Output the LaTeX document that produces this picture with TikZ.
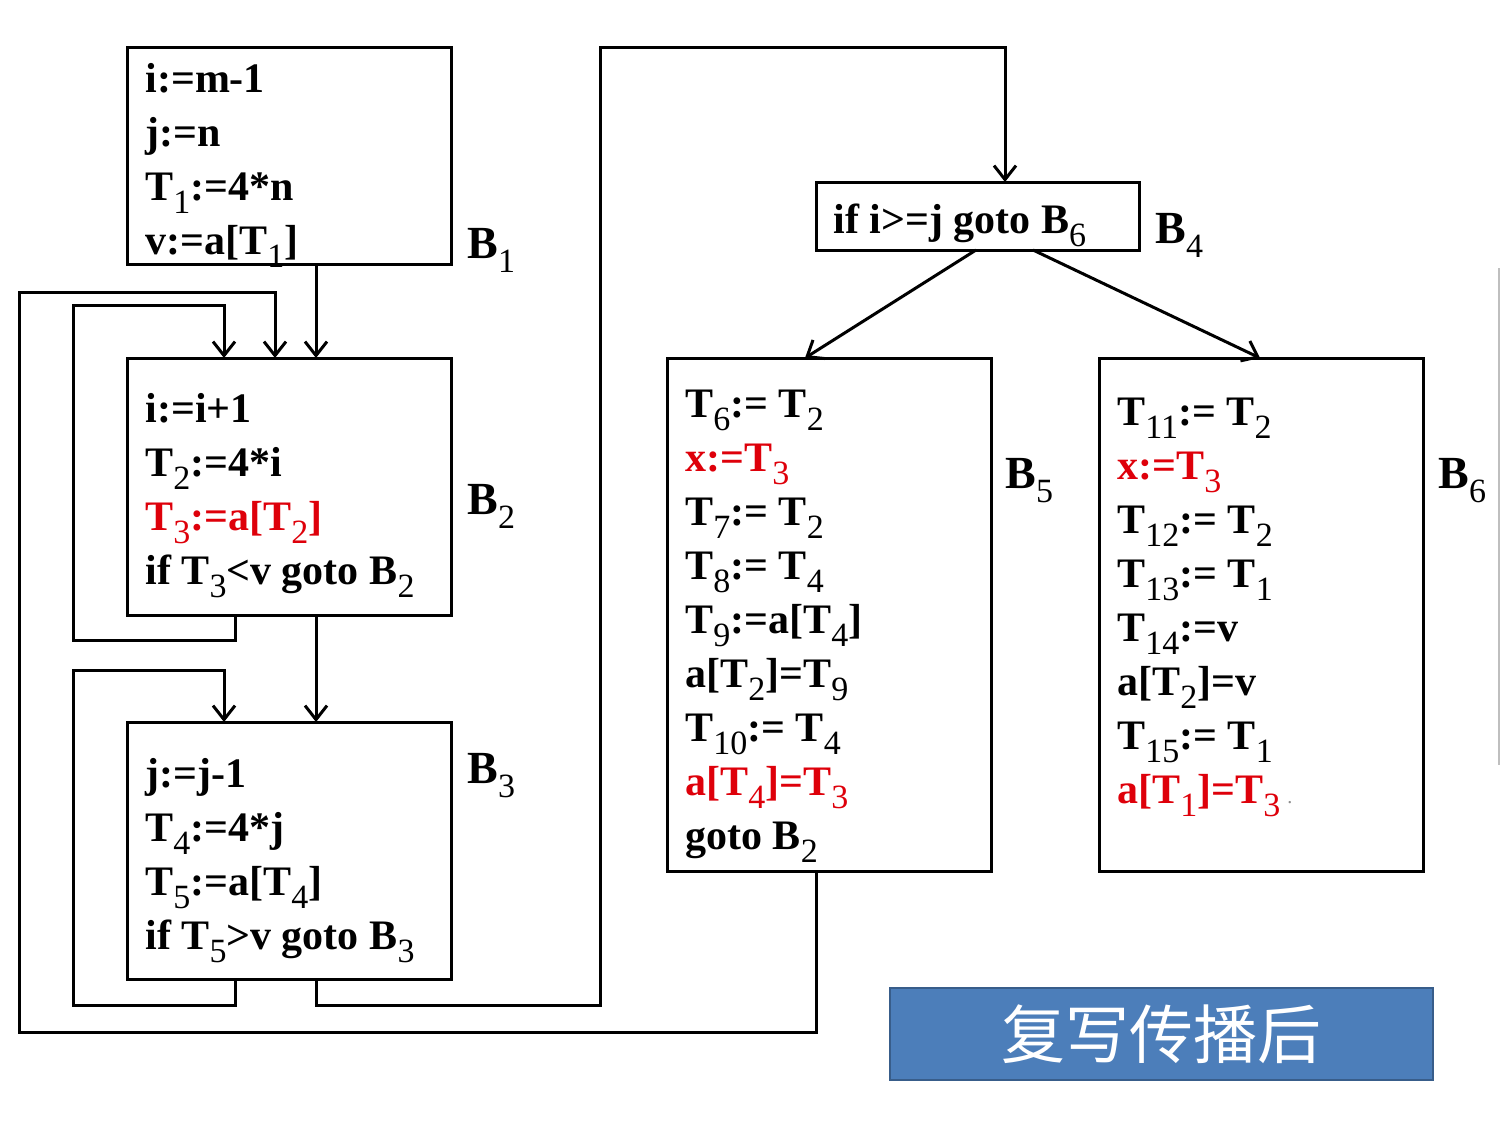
\documentclass[tikz,border=0pt]{standalone}
\usepackage{fontspec}
\setmainfont{Liberation Serif}
\newfontfamily\cjk{Noto Sans CJK SC}
\usetikzlibrary{arrows.meta}
\definecolor{cred}{RGB}{222,0,10}
\definecolor{bluefill}{RGB}{76,126,186}
\definecolor{blueline}{RGB}{56,93,138}
\newcommand\sbx[1]{\raisebox{-0.32em}{\fontsize{17}{17}\selectfont\mdseries #1}}
\newcommand\rd[1]{\textcolor{cred}{#1}}
\begin{document}
\begin{tikzpicture}[x=0.5pt,y=-0.5pt,
  box/.style={draw,line width=1.5pt,anchor=north west,inner sep=0pt,outer sep=0pt},
  code/.style={anchor=base west,inner sep=0pt,font=\fontsize{21}{21}\selectfont\bfseries},
  lbl/.style={anchor=base west,inner sep=0pt,font=\fontsize{23}{23}\selectfont\bfseries},
  conn/.style={line width=1.5pt},
  arr/.style={conn,-{Straight Barb[length=7pt,width=11pt,line width=1.5pt]}}]
\useasboundingbox (0,0) rectangle (1502,1126);
% boxes
\node[box,minimum width=162pt,minimum height=108.5pt] (B1) at (127,47) {};
\node[box,minimum width=162pt,minimum height=128.5pt] (B2) at (127,358) {};
\node[box,minimum width=162pt,minimum height=128.5pt] (B3) at (127,722) {};
\node[box,minimum width=161.5pt,minimum height=34pt] (B4) at (816,182) {};
\node[box,minimum width=162pt,minimum height=256.5pt] (B5) at (667,358) {};
\node[box,minimum width=162pt,minimum height=256.5pt] (B6) at (1099,358) {};
% texts
\foreach \t [count=\i] in {{i:=m-1},{j:=n},{T\sbx{1}:=4*n},{v:=a[T\sbx{1}]}}
  \node[code] (b1t\i) at (145,{92+54*(\i-1)}) {\t};
\foreach \t [count=\i] in {{i:=i+1},{T\sbx{2}:=4*i},{\rd{T\sbx{3}:=a[T\sbx{2}]}},{if T\sbx{3}<v goto B\sbx{2}}}
  \node[code] (b2t\i) at (145,{422+54*(\i-1)}) {\t};
\foreach \t [count=\i] in {{j:=j-1},{T\sbx{4}:=4*j},{T\sbx{5}:=a[T\sbx{4}]},{if T\sbx{5}>v goto B\sbx{3}}}
  \node[code] (b3t\i) at (145,{787+54*(\i-1)}) {\t};
\node[code] (b4t) at (833,233) {if i>=j goto B\sbx{6}};
\foreach \t [count=\i] in {{T\sbx{6}:= T\sbx{2}},{\rd{x:=T\sbx{3}}},{T\sbx{7}:= T\sbx{2}},{T\sbx{8}:= T\sbx{4}},{T\sbx{9}:=a[T\sbx{4}]},{a[T\sbx{2}]=T\sbx{9}},{T\sbx{10}:= T\sbx{4}},{\rd{a[T\sbx{4}]=T\sbx{3}}},{goto B\sbx{2}}}
  \node[code] (b5t\i) at (685,{417+54*(\i-1)}) {\t};
\foreach \t [count=\i] in {{T\sbx{11}:= T\sbx{2}},{\rd{x:=T\sbx{3}}},{T\sbx{12}:= T\sbx{2}},{T\sbx{13}:= T\sbx{1}},{T\sbx{14}:=v},{a[T\sbx{2}]=v},{T\sbx{15}:= T\sbx{1}},{\rd{a[T\sbx{1}]=T\sbx{3}}\,{\fontsize{10}{10}\selectfont\mdseries\textcolor{black!45}{.}}}}
  \node[code] (b6t\i) at (1117,{425+54*(\i-1)}) {\t};
% labels
\node[lbl] (L1) at (467,258) {B\sbx{1}};
\node[lbl] (L2) at (467,514) {B\sbx{2}};
\node[lbl] (L3) at (467,783) {B\sbx{3}};
\node[lbl] (L4) at (1155,243) {B\sbx{4}};
\node[lbl] (L5) at (1005,488) {B\sbx{5}};
\node[lbl] (L6) at (1438,488) {B\sbx{6}};
% connectors
\draw[arr] (B1.south -| 316,0) -- (B2.north -| 316,0);
\draw[arr] (B2.south -| 316,0) -- (B3.north -| 316,0);
\draw[arr] (B2.south -| 235,0) |- (73,640) |- (224,305) -- (B2.north -| 224,0);
\draw[arr] (B3.south -| 235,0) |- (73,1005) |- (224,670) -- (B3.north -| 224,0);
\draw[arr] (B3.south -| 316,0) |- (600,1005) |- (1005,47) -- (B4.north -| 1005,0);
\draw[arr] (B5.south -| 816,0) |- (19,1032) |- (275,292) -- (B2.north -| 275,0);
\draw[arr] (B4.south -| 976,0) -- (B5.north -| 805,0);
\draw[arr] (B4.south -| 1033,0) -- (B6.north -| 1260,0);
% title
\node[draw=blueline,fill=bluefill,line width=1pt,anchor=north west,minimum width=271.5pt,minimum height=46pt,inner sep=0pt,text=white,font=\cjk\fontsize{32}{32}\selectfont] (title) at (889,987) {复写传播后};
% edge artifact
\draw[black!25,line width=1pt] (1499,268) -- (1499,765);
\end{tikzpicture}
\end{document}
